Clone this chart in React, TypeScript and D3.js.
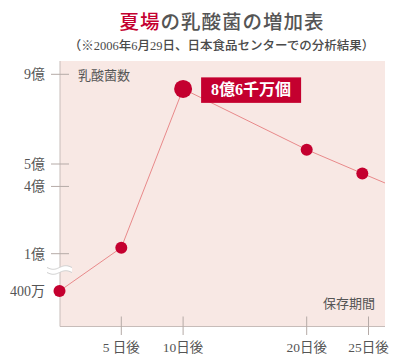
import React from "react";
import * as d3 from "d3";

const days = [0, 5, 10, 20, 24.5, 30];
const values = [0.04, 1.27, 8.35, 5.64, 4.58, 3.3]; // 億
const showPoint = [true, true, true, true, true, false];
const yTickValues = [9, 5, 4, 1, 0.04];
const yTickLabels = ["9億", "5億", "4億", "1億", "400万"];
const xTickValues = [5, 10, 20, 25];
const xTickLabels = ["5 日後", "10日後", "20日後", "25日後"];
const peakLabel = "8億6千万個";

const W = 400, H = 360;
const L = 60, R = 385, T = 61, B = 326.5;

const serif = "'Liberation Serif','DejaVu Serif','Noto Sans CJK JP',serif";
const sans = "'Noto Sans CJK JP',sans-serif";

export default function App() {
  const x = d3.scaleLinear().domain([0, 25]).range([59.5, 368.5]);
  const y = d3.scaleLinear().domain([0.04, 1, 9]).range([291, 253.7, 74.3]);
  const pts = days.map((d, i) => [x(d), y(values[i])] as [number, number]);
  const line = d3.line()(pts) || "";
  const peakIdx = values.indexOf(d3.max(values) as number);

  const wavePts = (y0: number) => {
    const arr: [number, number][] = [];
    const n = 24;
    for (let i = 0; i <= n; i++) {
      arr.push([47 + (25 * i) / n, y0 + 1.8 * Math.sin((i / n) * Math.PI * 2)]);
    }
    return arr;
  };
  const top = wavePts(267.5);
  const bot = wavePts(272.5);
  const band = (d3.line()([...top, ...bot.slice().reverse()]) || "") + "Z";

  return (
    <svg width={W} height={H} style={{ position: "absolute", left: 0, top: 0, background: "#fff" }}>
      <defs>
        <clipPath id="plotclip">
          <rect x={L} y={T} width={R - L} height={B - T} />
        </clipPath>
      </defs>
      {/* title */}
      <text x={222} y={29} textAnchor="middle" fontFamily={sans} fontWeight={500} fontSize={19.5} fill="#555" letterSpacing={1}>
        <tspan fill="#c4002f">夏場</tspan>の乳酸菌の増加表
      </text>
      <text x={221.5} y={49.5} textAnchor="middle" fontFamily={serif} fontWeight={500} fontSize={12.5} fill="#4a4a4a">
        （※2006年6月29日、日本食品センターでの分析結果）
      </text>

      {/* plot background */}
      <rect x={L} y={T} width={R - L} height={B - T} fill="#f8e8e4" />
      <line x1={L} x2={L} y1={T} y2={B} stroke="#c7bcb9" />
      <line x1={L} x2={R} y1={B} y2={B} stroke="#c7bcb9" />

      {/* y ticks */}
      {yTickValues.map((v, i) => (
        <g key={"y" + i}>
          {i < 4 && <line x1={51} x2={69} y1={y(v)} y2={y(v)} stroke="#b5aaa7" />}
          <text x={45} y={y(v) + 5} textAnchor="end" fontFamily={serif} fontSize={14} fill="#555">
            {yTickLabels[i]}
          </text>
        </g>
      ))}

      {/* x ticks */}
      {xTickValues.map((v, i) => (
        <g key={"x" + i}>
          <line x1={x(v)} x2={x(v)} y1={316.5} y2={335} stroke="#b5aaa7" />
          <text x={x(v)} y={352} textAnchor="middle" fontFamily={serif} fontSize={13.5} fill="#555">
            {xTickLabels[i]}
          </text>
        </g>
      ))}

      {/* axis titles */}
      <text x={78} y={80} fontFamily={sans} fontSize={13} fill="#555">乳酸菌数</text>
      <text x={375} y={308} textAnchor="end" fontFamily={sans} fontSize={13} fill="#555">保存期間</text>

      {/* break symbol */}
      <path d={band} fill="#fff" stroke="none" />
      <path d={d3.line()(top) || ""} fill="none" stroke="#cfcfcf" strokeWidth={1} />
      <path d={d3.line()(bot) || ""} fill="none" stroke="#cfcfcf" strokeWidth={1} />

      {/* line */}
      <path d={line} fill="none" stroke="#e8898a" strokeWidth={1} clipPath="url(#plotclip)" />
      {pts.map((p, i) =>
        showPoint[i] ? (
          <circle key={"c" + i} cx={p[0]} cy={p[1]} r={i === peakIdx ? 9 : 6} fill="#c4002f" />
        ) : null
      )}

      {/* peak label */}
      <rect x={pts[peakIdx][0] + 18} y={pts[peakIdx][1] - 11.5} width={100} height={25.5} fill="#c4002f" />
      <text x={pts[peakIdx][0] + 68} y={pts[peakIdx][1] + 6.5} textAnchor="middle" fontFamily={serif} fontWeight={700} fontSize={16} fill="#fff">
        {peakLabel}
      </text>
    </svg>
  );
}
